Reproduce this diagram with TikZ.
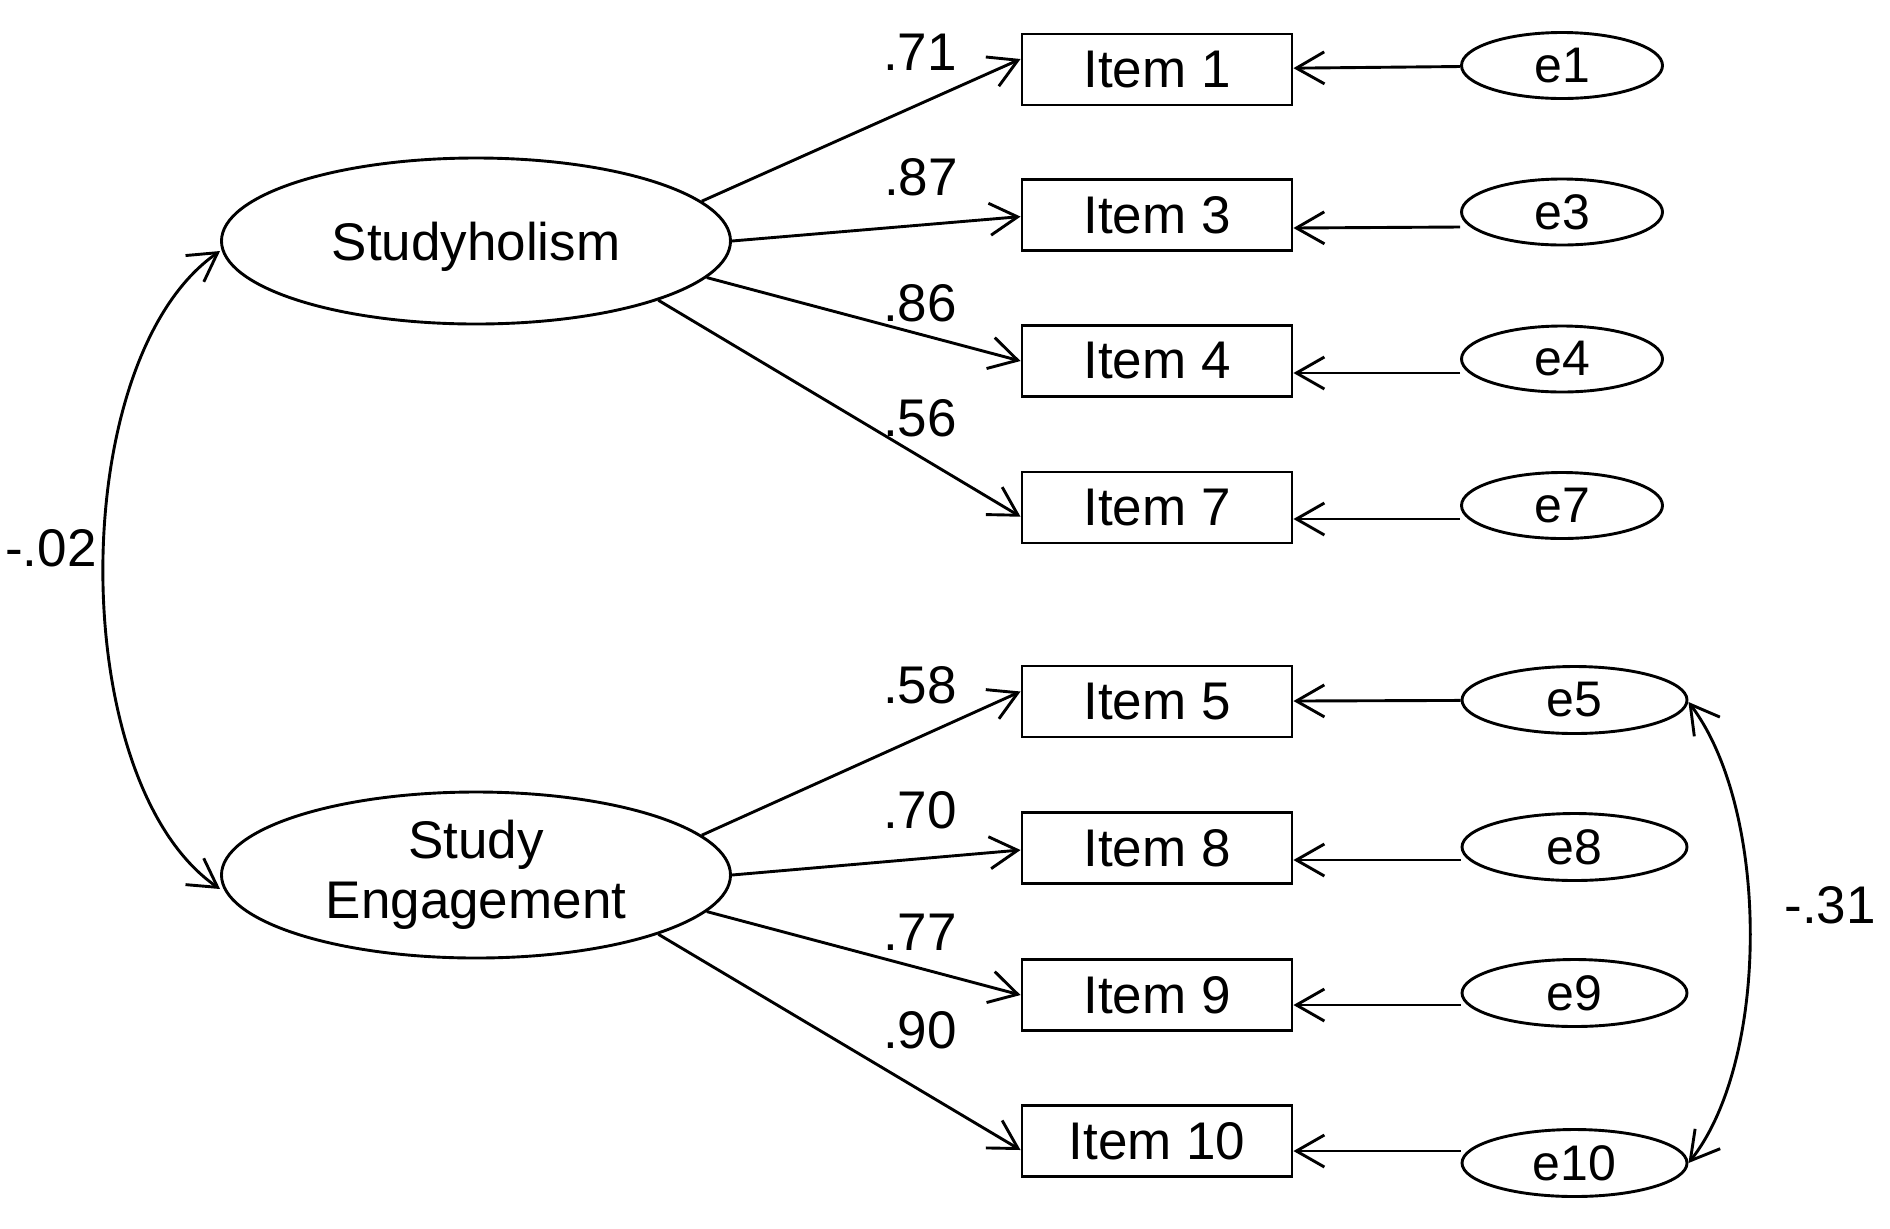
\documentclass[tikz,border=0pt]{standalone}
\usepackage{fontspec}
\setmainfont{Liberation Sans}
\usetikzlibrary{arrows.meta,shapes.geometric}
\begin{document}
\begin{tikzpicture}[x=0.5pt,y=-0.5pt,
  every node/.style={inner sep=0pt,font=\fontsize{26.5}{30}\selectfont},
  lw/.style={line width=1.45pt},
  latent/.style={draw,lw,ellipse,minimum width=254.5pt,minimum height=83pt,align=center},
  item/.style={draw,lw,rectangle,minimum width=135pt,minimum height=35.5pt},
  errA/.style={draw,lw,ellipse,minimum width=100.5pt,minimum height=33pt,font=\fontsize{25}{30}\selectfont},
  errB/.style={draw,lw,ellipse,minimum width=112.5pt,minimum height=33.5pt,font=\fontsize{25}{30}\selectfont},
  arr/.style={lw,-{Straight Barb[length=14pt,width=16pt]}},
  cov/.style={lw,{Straight Barb[length=14pt,width=16pt]}-{Straight Barb[length=14pt,width=16pt]}},
  coef/.style={}
]
\useasboundingbox (0,0) rectangle (1890,1228);

% latent variables
\node[latent,text depth=0pt] (sh) at (476,241) {Studyholism};
\node[latent] (se) at (476,875) {Study\\Engagement};

% observed items
\node[item] (i1) at (1157,69.5) {Item 1};
\node[item] (i3) at (1157,215) {Item 3};
\node[item] (i4) at (1157,361) {Item 4};
\node[item] (i7) at (1157,507.5) {Item 7};
\node[item] (i5) at (1157,701.5) {Item 5};
\node[item] (i8) at (1157,848) {Item 8};
\node[item] (i9) at (1157,995) {Item 9};
\node[item] (i10) at (1157,1141) {Item 10};

% error terms
\node[errA] (e1) at (1562,65.5) {e1};
\node[errA] (e3) at (1562,212) {e3};
\node[errA] (e4) at (1562,359) {e4};
\node[errA] (e7) at (1562,505.5) {e7};
\node[errB] (e5) at (1574.5,700) {e5};
\node[errB] (e8) at (1574.5,847) {e8};
\node[errB] (e9) at (1574.5,993) {e9};
\node[errB] (e10) at (1574.5,1163) {e10};

% loadings
\draw[arr] (sh.10) -- ([yshift=5.25pt]i1.west);
\draw[arr] (sh.0) -- ([yshift=-0.8pt]i3.west);
\draw[arr] (sh.351) -- (i4.west);
\draw[arr] (sh.342) -- ([yshift=-4.6pt]i7.west);
\draw[arr] (se.10) -- ([yshift=5pt]i5.west);
\draw[arr] (se.0) -- ([yshift=-1pt]i8.west);
\draw[arr] (se.351) -- (i9.west);
\draw[arr] (se.342) -- ([yshift=-4.5pt]i10.west);

% error paths
\draw[arr] (e1) -- (i1);
\draw[arr] ([yshift=-7.5pt]e3.west) -- ([yshift=-6.5pt]i3.east);
\draw[arr] ([yshift=-7pt]e4.west) -- ([yshift=-6pt]i4.east);
\draw[arr] ([yshift=-6.75pt]e7.west) -- ([yshift=-5.75pt]i7.east);
\draw[arr] (e5) -- (i5);
\draw[arr] ([yshift=-6.5pt]e8.west) -- ([yshift=-6pt]i8.east);
\draw[arr] ([yshift=-6pt]e9.west) -- ([yshift=-5pt]i9.east);
\draw[arr] ([yshift=6pt]e10.west) -- ([yshift=-5pt]i10.east);

% covariances
\draw[cov] ([yshift=-5pt]sh.west) .. controls (65,359) and (65,782) .. ([yshift=-7pt]se.west);
\draw[cov] ([yshift=-1pt]e5.east) .. controls (1770,810) and (1770,1060) .. (e10.east);

% coefficient labels
\node[coef] (l71) at (920,52) {.71};
\node[coef] (l87) at (921,177) {.87};
\node[coef] (l86) at (920,303) {.86};
\node[coef] (l56) at (920,418) {.56};
\node[coef] (l58) at (920,685) {.58};
\node[coef] (l70) at (920,810) {.70};
\node[coef] (l77) at (920,932) {.77};
\node[coef] (l90) at (920,1030) {.90};
\node[coef] (l02) at (51,548) {-.02};
\node[coef] (l31) at (1830,905) {-.31};
\end{tikzpicture}
\end{document}
